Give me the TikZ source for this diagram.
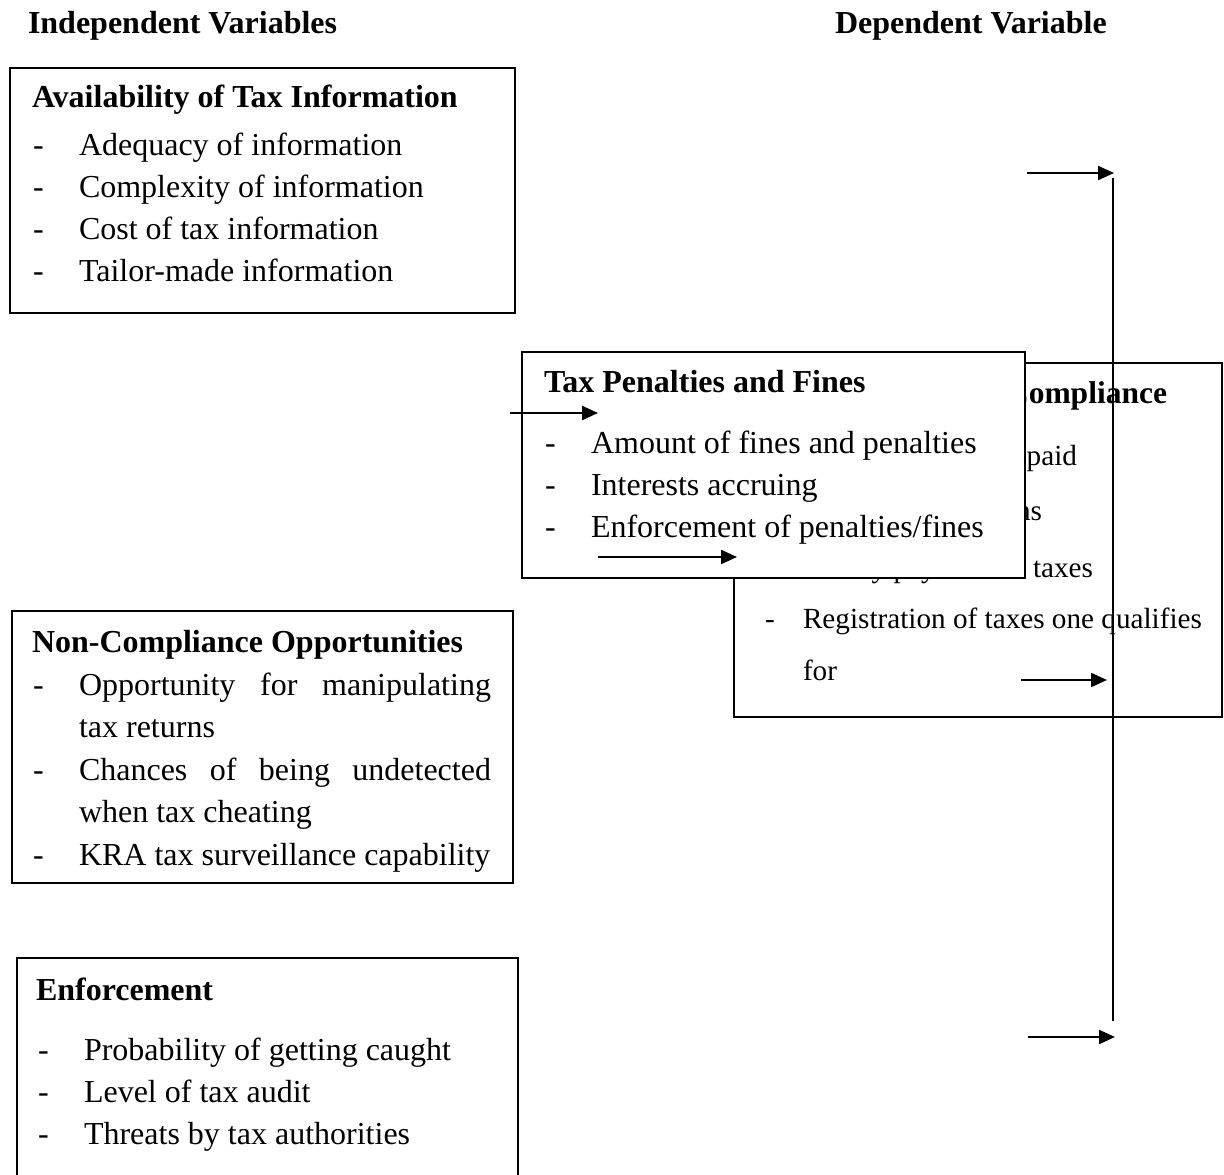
\documentclass[tikz,border=0pt]{standalone}
\usepackage{fontspec}
\setmainfont{Liberation Serif}
\usetikzlibrary{arrows.meta}
\begin{document}
\begin{tikzpicture}[x=1pt,y=-1pt,
  box/.style={draw=black,line width=2pt,fill=white,inner sep=0pt,outer sep=0pt,anchor=north west},
  txt/.style={anchor=base west,inner sep=0pt,outer sep=0pt,font=\fontsize{32}{38}\selectfont},
  ttl/.style={anchor=base west,inner sep=0pt,outer sep=0pt,font=\fontsize{32}{38}\selectfont\bfseries},
  stxt/.style={anchor=base west,inner sep=0pt,outer sep=0pt,font=\fontsize{29.2}{35}\selectfont},
  sttl/.style={anchor=base east,inner sep=0pt,outer sep=0pt,font=\fontsize{31.5}{38}\selectfont\bfseries},
  stail/.style={anchor=base east,inner sep=0pt,outer sep=0pt,font=\fontsize{29.2}{35}\selectfont},
  arr/.style={line width=2.2pt,-{Triangle[length=16pt,width=14pt]}},
  vline/.style={line width=1.6pt}
]
\useasboundingbox (0,0) rectangle (1224,1175);
\clip (0,0) rectangle (1224,1175);

% headers
\node[ttl] (hind) at (28,34) {Independent Variables};
\node[ttl] (hdep) at (835,34) {Dependent Variable};

% Box 1: Availability of Tax Information
\node[box,minimum width=505pt,minimum height=245pt] (b1) at (10,68) {};
\node[ttl] (b1t) at (32,107) {Availability of Tax Information};
\node[txt] (b1d1) at (33,155) {-};
\node[txt] (b1i1) at (79,155) {Adequacy of information};
\node[txt] (b1d2) at (33,197) {-};
\node[txt] (b1i2) at (79,197) {Complexity of information};
\node[txt] (b1d3) at (33,239) {-};
\node[txt] (b1i3) at (79,239) {Cost of tax information};
\node[txt] (b1d4) at (33,281) {-};
\node[txt] (b1i4) at (79,281) {Tailor-made information};

% Box: Tax Compliance (behind)
\node[box,minimum width=488pt,minimum height=354pt] (bc) at (734,363) {};
\node[sttl] (bct) at (1167,403) {Tax Compliance};
\node[stxt] (bcd1) at (763,465) {-};
\node[stail] (bci1) at (1077,465) {Amount of tax paid};
\node[stxt] (bcd2) at (763,520) {-};
\node[stail] (bci2) at (1042,520) {Filing of tax returns};
\node[stxt] (bcd3) at (763,577) {-};
\node[stail] (bci3) at (1093,577) {Timely payment of taxes};
\node[stxt] (bcd4) at (765,628) {-};
\node[stxt] (bci4) at (803,628) {Registration of taxes one qualifies};
\node[stxt] (bci4b) at (803,680) {for};

% Box: Tax Penalties and Fines (front)
\node[box,minimum width=503pt,minimum height=226pt] (bp) at (522,352) {};
\node[ttl] (bpt) at (544,392) {Tax Penalties and Fines};
\node[txt] (bpd1) at (545,453) {-};
\node[txt] (bpi1) at (591,453) {Amount of fines and penalties};
\node[txt] (bpd2) at (545,495) {-};
\node[txt] (bpi2) at (591,495) {Interests accruing};
\node[txt] (bpd3) at (545,537) {-};
\node[txt] (bpi3) at (591,537) {Enforcement of penalties/fines};

% Box: Non-Compliance Opportunities
\node[box,minimum width=501pt,minimum height=272pt] (bn) at (12,611) {};
\node[ttl] (bnt) at (32,652) {Non-Compliance Opportunities};
\node[txt] (bnd1) at (33,695) {-};
\node[txt] (bni1) at (79,695) {\hbox to 412pt{Opportunity\hfill for\hfill manipulating}};
\node[txt] (bni1b) at (79,737) {tax returns};
\node[txt] (bnd2) at (33,780) {-};
\node[txt] (bni2) at (79,780) {\hbox to 412pt{Chances\hfill of\hfill being\hfill undetected}};
\node[txt] (bni2b) at (79,822) {when tax cheating};
\node[txt] (bnd3) at (33,865) {-};
\node[txt] (bni3) at (79,865) {KRA tax surveillance capability};

% Box: Enforcement
\node[box,minimum width=501pt,minimum height=260pt] (be) at (17,958) {};
\node[ttl] (bet) at (36,1000) {Enforcement};
\node[txt] (bed1) at (38,1060) {-};
\node[txt] (bei1) at (84,1060) {Probability of getting caught};
\node[txt] (bed2) at (38,1102) {-};
\node[txt] (bei2) at (84,1102) {Level of tax audit};
\node[txt] (bed3) at (38,1144) {-};
\node[txt] (bei3) at (84,1144) {Threats by tax authorities};

% connectors
\coordinate (a1s) at (1027,173);
\coordinate (a1e) at (1114,173);
\coordinate (vt) at (1113,178);
\coordinate (vb) at (1113,1021);
\coordinate (a2s) at (1028,1037);
\coordinate (a2e) at (1115,1037);
\coordinate (a3s) at (1021,680);
\coordinate (a3e) at (1107,680);
\coordinate (a4s) at (510,413);
\coordinate (a4e) at (598,413);
\coordinate (a5s) at (598,557);
\coordinate (a5e) at (737,557);

\draw[vline] (vt) -- (vb);
\draw[arr] (a1s) -- (a1e);
\draw[arr] (a2s) -- (a2e);
\draw[arr] (a3s) -- (a3e);
\draw[arr] (a4s) -- (a4e);
\draw[arr] (a5s) -- (a5e);
\end{tikzpicture}
\end{document}
